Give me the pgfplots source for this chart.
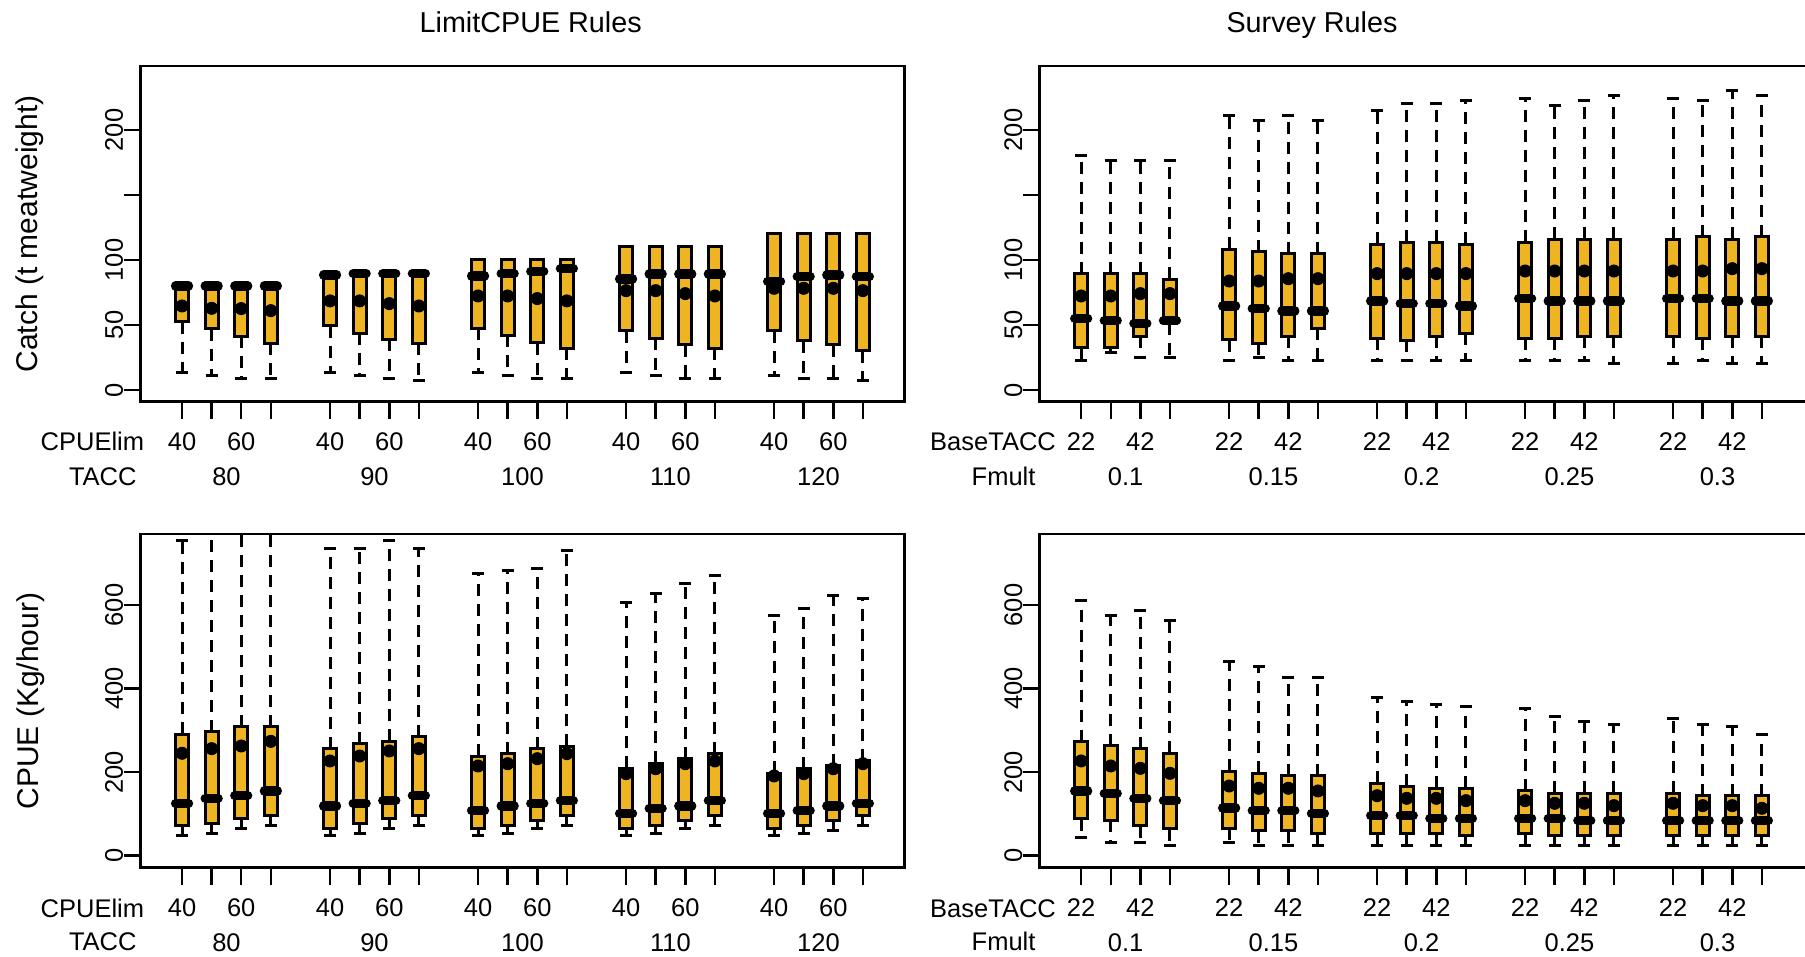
\documentclass[border=0pt]{standalone}
\usepackage{fontspec}
\setmainfont{Liberation Sans}
\usepackage{pgfplots}
\usepackage{pgfplotstable}
\pgfplotsset{compat=1.18}
\usepgfplotslibrary{statistics}
\definecolor{boxfill}{RGB}{238,180,34}

% pos lw q1 med q3 uw mean
\pgfplotstableread{
pos lw q1 med q3 uw mean
1 13.3 52.6 80 80 80 64.6
2 11.0 46.9 80 80 80 62.8
3 9.2 41.5 80 80 80 62.6
4 9.2 35.9 80 80 80 61.0
6 13.3 49.5 88.5 88.5 88.5 68.5
7 11.0 43.6 89.5 89.5 89.5 68.5
8 9.2 39.2 89.5 89.5 89.5 66.4
9 7.4 35.9 89.5 89.5 89.5 64.6
11 13.3 47.4 87.7 100 100 72.3
12 11.0 42.0 89.5 100 100 72.3
13 9.2 36.2 91.3 100 100 70.3
14 9.2 32.1 93.3 100 100 68.5
16 13.3 45.4 85.4 110 110 76.4
17 11.0 39.7 89.2 110 110 76.4
18 9.2 34.6 89.2 110 110 74.1
19 9.2 32.1 89.2 110 110 72.3
21 11.0 45.4 83.6 120 120 78.2
22 9.2 37.7 87.2 120 120 78.2
23 9.2 34.6 88.5 120 120 78.2
24 7.4 30.3 87.2 120 120 76.4
}\catchL

\pgfplotstableread{
pos lw q1 med q3 uw mean
1 22.6 32.6 55.1 89.2 180.2 72.3
2 28.7 32.6 53.3 89.2 176.7 72.3
3 25.1 41.5 51.3 89.2 176.7 74.1
4 25.1 51.5 53.3 85.1 176.7 74.1
6 22.6 38.5 64.6 108.2 211.0 83.8
7 25.1 35.9 62.6 106.4 207.4 83.8
8 22.6 41.5 60.8 104.6 211.0 85.6
9 22.6 47.4 60.8 104.6 207.4 85.6
11 22.6 39.7 68.5 112.0 214.9 89.5
12 22.6 38.2 66.4 113.8 220.5 89.5
13 22.6 41.5 66.4 113.8 220.5 89.5
14 22.6 43.6 64.6 112.0 222.6 89.5
16 22.6 39.7 70.3 113.8 224.4 91.5
17 22.6 39.7 68.5 115.9 218.7 91.5
18 22.6 41.5 68.5 115.9 222.6 91.5
19 20.5 41.5 68.5 115.9 226.4 91.5
21 20.5 41.5 70.3 115.9 224.4 91.5
22 22.6 39.7 70.3 117.9 222.6 91.5
23 20.5 41.5 68.5 115.9 230.0 93.3
24 20.5 41.5 68.5 117.9 226.4 93.3
}\catchR

\pgfplotstableread{
pos lw q1 med q3 uw mean
1 47.9 71.8 125.3 291.2 753.2 245.1
2 53.5 77.5 137.3 296.9 790 256.2
3 65.3 89.4 143.6 308.8 800 262.6
4 71.8 95.8 154.9 308.8 850 273.7
6 47.9 65.5 119.0 255.4 735.7 226.7
7 53.5 77.5 125.3 267.4 735.7 238.6
8 65.3 89.4 131.7 273.8 753.2 250.6
9 71.8 95.8 143.6 284.9 735.7 256.2
11 47.9 65.5 107.7 238.6 675.9 214.7
12 53.5 71.8 119.0 244.2 681.5 220.2
13 65.3 83.8 125.3 256.2 687.9 232.2
14 71.8 95.8 131.7 261.8 729.3 244.2
16 47.9 65.5 101.4 209.1 604.9 196.3
17 53.5 71.8 113.4 221.1 628.0 208.2
18 65.3 83.8 119.0 232.2 651.9 220.2
19 71.8 95.8 131.7 244.2 669.4 226.7
21 47.9 65.5 101.4 197.2 574.5 190.8
22 53.5 71.8 107.7 208.2 592.1 196.3
23 59.9 83.8 119.0 214.7 622.3 208.2
24 71.8 95.8 125.3 226.7 616.0 220.2
}\cpueL

\pgfplotstableread{
pos lw q1 med q3 uw mean
1 42.4 88.6 154.9 272.9 610.4 226.7
2 31.2 85.4 149.3 262.6 575.4 214.7
3 31.2 71.8 137.3 255.4 586.5 209.1
4 24.0 64.6 131.7 245.0 563.4 197.2
6 31.2 65.5 114.2 202.7 463.6 166.8
7 24.0 59.9 107.7 197.2 451.7 161.3
8 24.0 59.9 107.7 190.8 426.1 161.3
9 24.0 53.6 101.5 190.8 426.1 154.9
11 24.0 53.6 95.8 173.3 379.1 143.6
12 24.0 53.6 95.8 166.8 367.9 137.3
13 24.0 53.6 89.4 161.3 362.3 137.3
14 24.0 47.9 89.4 161.3 356.7 131.7
16 24.0 53.6 89.4 154.9 351.1 131.7
17 24.0 47.9 89.4 149.3 332.7 125.4
18 24.0 47.9 83.8 149.3 320.7 125.4
19 24.0 47.9 83.8 149.3 314.5 119.8
21 24.0 47.9 83.8 149.3 327.2 125.4
22 24.0 47.9 83.8 142.9 314.5 119.8
23 24.0 47.9 83.8 142.9 308.8 119.8
24 24.0 47.9 83.8 142.9 291.2 113.4
}\cpueR

\newcommand{\drawboxes}[1]{%
  \pgfplotsforeachungrouped \i in {0,...,19}{%
    \pgfplotstablegetelem{\i}{pos}\of#1\let\vP\pgfplotsretval
    \pgfplotstablegetelem{\i}{lw}\of#1\let\vLW\pgfplotsretval
    \pgfplotstablegetelem{\i}{q1}\of#1\let\vQA\pgfplotsretval
    \pgfplotstablegetelem{\i}{med}\of#1\let\vMD\pgfplotsretval
    \pgfplotstablegetelem{\i}{q3}\of#1\let\vQB\pgfplotsretval
    \pgfplotstablegetelem{\i}{uw}\of#1\let\vUW\pgfplotsretval
    \edef\temp{\noexpand\addplot[boxplot prepared={draw position=\vP,
      lower whisker=\vLW, lower quartile=\vQA, median=\vMD,
      upper quartile=\vQB, upper whisker=\vUW}] coordinates {};}%
    \temp
  }%
  \addplot[only marks, mark=*, mark size=2.4pt, black, mark options={fill=black}]
    table[x=pos, y=mean] {#1};
}

\pgfplotsset{
  boxplot/draw/box/.code={%
    \path[draw=black, line width=1.2pt, fill=boxfill]
      (boxplot box cs:\pgfplotsboxplotvalue{lower quartile},0)
      rectangle
      (boxplot box cs:\pgfplotsboxplotvalue{upper quartile},1);
  },
  boxplot/draw/median/.code={%
    \draw[line width=3.7pt, line cap=round, black, fill=none]
      (boxplot box cs:\pgfplotsboxplotvalue{median},0) --
      (boxplot box cs:\pgfplotsboxplotvalue{median},1);
  },
  boxplot/draw/lower whisker/.code={%
    \draw[line width=1.2pt, black, fill=none, dash pattern=on 4.8pt off 3.2pt]
      (boxplot cs:\pgfplotsboxplotvalue{lower quartile}) --
      (boxplot cs:\pgfplotsboxplotvalue{lower whisker});
    \draw[line width=1.2pt, black, fill=none]
      (boxplot whisker cs:\pgfplotsboxplotvalue{lower whisker},0) --
      (boxplot whisker cs:\pgfplotsboxplotvalue{lower whisker},1);
  },
  boxplot/draw/upper whisker/.code={%
    \draw[line width=1.2pt, black, fill=none, dash pattern=on 4.8pt off 3.2pt]
      (boxplot cs:\pgfplotsboxplotvalue{upper quartile}) --
      (boxplot cs:\pgfplotsboxplotvalue{upper whisker});
    \draw[line width=1.2pt, black, fill=none]
      (boxplot whisker cs:\pgfplotsboxplotvalue{upper whisker},0) --
      (boxplot whisker cs:\pgfplotsboxplotvalue{upper whisker},1);
  },
  panel/.style={
    scale only axis, anchor=south west,
    xmin=-0.4,
    axis line style={line width=1pt},
    every tick/.style={line width=1pt, black},
    tick align=outside, major tick length=6.8pt,
    xtick pos=left, ytick pos=left,
    xtick={1,2,3,4,6,7,8,9,11,12,13,14,16,17,18,19,21,22,23,24},
    extra x ticks={2.5,7.5,12.5,17.5,22.5},
    extra x tick style={major tick length=0pt, every tick/.style={draw=none},
      xticklabel style={yshift=-20.8pt}},
    xticklabel style={font=\fontsize{10.2}{12}\selectfont, anchor=center, yshift=-9.2pt},
    yticklabel style={font=\fontsize{10.2}{12}\selectfont, xshift=-3.8pt, rotate=90, anchor=center},
    boxplot/draw direction=y,
    boxplot/box extend=0.44, boxplot/whisker extend=0.4,
  },
  catch/.style={height=134.28pt, ymin=-9, ymax=249.2,
    ytick={0,50,100,150,200}, yticklabels={0,50,100,,200}},
  cpue/.style={height=133.48pt, ymin=-28.7, ymax=770,
    ytick={0,200,400,600}, yticklabels={0,200,400,600}},
  limit/.style={xticklabels={40,,60,,40,,60,,40,,60,,40,,60,,40,,60,},
    extra x tick labels={80,90,100,110,120}},
  survey/.style={xticklabels={22,,42,,22,,42,,22,,42,,22,,42,,22,,42,},
    extra x tick labels={0.1,0.15,0.2,0.25,0.3}},
}

\begin{document}
\begin{tikzpicture}[x=0.4pt,y=0.4pt]
\begin{axis}[panel, catch, limit, at={(56.24pt,222.12pt)}, width=305.6pt, xmax=25.41]
\drawboxes{\catchL}
\end{axis}
\begin{axis}[panel, catch, survey, at={(415.88pt,222.12pt)}, width=307.32pt, xmax=25.56]
\drawboxes{\catchR}
\end{axis}
\begin{axis}[panel, cpue, limit, at={(56.24pt,35.72pt)}, width=305.6pt, xmax=25.41]
\drawboxes{\cpueL}
\end{axis}
\begin{axis}[panel, cpue, survey, at={(415.88pt,35.72pt)}, width=307.32pt, xmax=25.56]
\drawboxes{\cpueR}
\end{axis}

\node[font=\fontsize{11.5}{13}\selectfont, anchor=base] at (530.7,924.7) {LimitCPUE Rules};
\node[font=\fontsize{11.5}{13}\selectfont, anchor=base] at (1312,924.7) {Survey Rules};
\node[font=\fontsize{12}{14}\selectfont, rotate=90] at (30,723) {Catch (t meatweight)};
\node[font=\fontsize{12}{14}\selectfont, rotate=90] at (30.7,256) {CPUE (Kg/hour)};

\begin{scope}[every node/.style={font=\fontsize{10.2}{12}\selectfont}]
\node at (92.4,515.3) {CPUElim};
\node at (102.8,480.3) {TACC};
\node at (993,515.3) {BaseTACC};
\node at (1003.6,480.3) {Fmult};
\node at (92.4,48.7) {CPUElim};
\node at (102.8,15.3) {TACC};
\node at (993,48.7) {BaseTACC};
\node at (1003.6,15.3) {Fmult};
\end{scope}

\pgfresetboundingbox
\path[use as bounding box] (0,0) rectangle (1805,957);
\end{tikzpicture}
\end{document}
